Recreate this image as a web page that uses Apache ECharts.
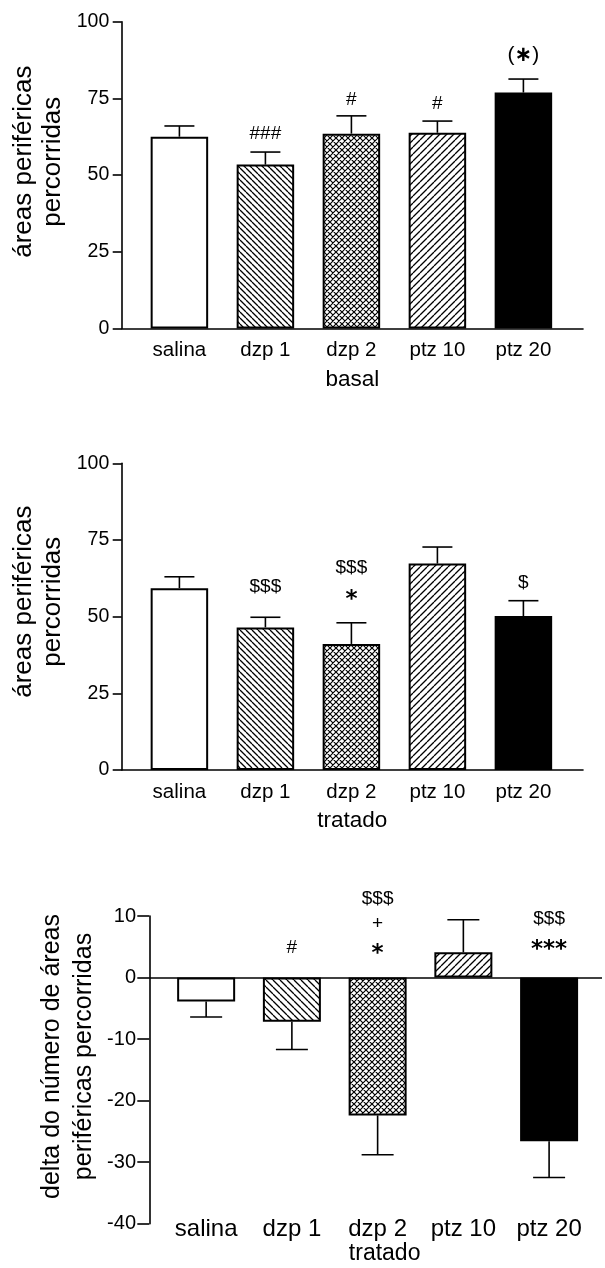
<!DOCTYPE html>
<html>
<head>
<meta charset="utf-8">
<script src="https://cdn.jsdelivr.net/npm/echarts@6/dist/echarts.min.js"></script>
<style>
html,body{margin:0;padding:0;background:#fff;}
#chart{width:605px;height:1268px;}
</style>
</head>
<body>
<div id="chart"></div>
<script>
// ---------- data ----------
const categories = ['salina', 'dzp 1', 'dzp 2', 'ptz 10', 'ptz 20'];

const basalMean = [62.5, 53.4, 63.5, 63.8, 76.9];
const basalSem  = [3.5, 4.1, 5.8, 3.8, 4.4];

const tratadoMean = [59.3, 46.5, 41.1, 67.3, 50.2];
const tratadoSem  = [3.7, 3.3, 6.9, 5.4, 5.0];

const deltaMean = [-3.9, -7.2, -22.4, 4.1, -26.6];
const deltaSem  = [2.5, 4.5, 6.4, 5.3, 5.9];

const pctTicks   = [0, 25, 50, 75, 100];
const deltaTicks = [-40, -30, -20, -10, 0, 10];

// significance marks: category index, text, value level where the mark sits
const basalMarkCat  = [1, 2, 3, 4];
const basalMarkText = ['###', '#', '#', '(*)'];
const basalMarkAt   = [63.3, 74.5, 73.1, 89.1];

const tratadoMarkCat  = [1, 2, 2, 4];
const tratadoMarkText = ['$$$', '$$$', '*', '$'];
const tratadoMarkAt   = [59.7, 65.8, 55.4, 60.9];

const deltaMarkCat  = [1, 2, 2, 2, 4, 4];
const deltaMarkText = ['#', '$$$', '+', '*', '$$$', '***'];
const deltaMarkAt   = [4.8, 12.8, 8.8, 3.9, 9.5, 4.5];

// ---------- styling helpers ----------
const FONT = "'Liberation Sans', Arial, Helvetica, sans-serif";

function hatch(kind, s, lw) {
  const c = document.createElement('canvas');
  c.width = s; c.height = s;
  const g = c.getContext('2d');
  g.fillStyle = '#fff'; g.fillRect(0, 0, s, s);
  g.strokeStyle = '#000'; g.lineWidth = lw;
  g.beginPath();
  for (const k of [-1, 0, 1]) {
    if (kind === 'back' || kind === 'cross') { g.moveTo(k * s, 0); g.lineTo(k * s + s, s); }
    if (kind === 'fwd' || kind === 'cross') { g.moveTo(k * s, s); g.lineTo(k * s + s, 0); }
  }
  g.stroke();
  return c;
}

function fills(sBack, sFwd, sCross) {
  return [
    '#ffffff',
    { image: hatch('back', sBack, 1.3), repeat: 'repeat' },
    { image: hatch('cross', sCross, 1.2), repeat: 'repeat' },
    { image: hatch('fwd', sFwd, 1.3), repeat: 'repeat' },
    '#000000'
  ];
}

const fillsTop = fills(6, 7, 6);
const fillsBottom = fills(7, 7, 6);

function catLabel(v) {
  return (Number.isInteger(v) && categories[v] !== undefined) ? categories[v] : '';
}

function barSeries(idx, mean, fillSet, barW, extra) {
  return Object.assign({
    type: 'bar',
    xAxisIndex: idx, yAxisIndex: idx,
    barWidth: barW,
    data: mean.map((m, i) => ({
      value: [i, m],
      itemStyle: { color: fillSet[i], borderColor: '#000', borderWidth: 2 }
    })),
    silent: true,
    animation: false
  }, extra || {});
}

function errSeries(idx, mean, sem, capW) {
  return {
    type: 'custom',
    xAxisIndex: idx, yAxisIndex: idx,
    silent: true, animation: false, z: 3,
    data: mean.map((m, i) => [i, m, m + (m >= 0 ? 1 : -1) * sem[i]]),
    encode: { x: 0, y: [1, 2] },
    renderItem: function (params, api) {
      const x = api.value(0);
      const p0 = api.coord([x, api.value(1)]);
      const p1 = api.coord([x, api.value(2)]);
      const st = { stroke: '#000', lineWidth: 1.6 };
      return {
        type: 'group',
        children: [
          { type: 'line', shape: { x1: p0[0], y1: p0[1], x2: p1[0], y2: p1[1] }, style: st },
          { type: 'line', shape: { x1: p1[0] - capW / 2, y1: p1[1], x2: p1[0] + capW / 2, y2: p1[1] }, style: st }
        ]
      };
    }
  };
}

function markSeries(idx, cats, texts, at) {
  return {
    type: 'custom',
    xAxisIndex: idx, yAxisIndex: idx,
    silent: true, animation: false, z: 4, clip: false,
    data: cats.map((c, i) => [c, at[i]]),
    renderItem: function (params, api) {
      const p = api.coord([api.value(0), api.value(1)]);
      const t = texts[params.dataIndex];
      const style = { fill: '#000', align: 'center', verticalAlign: 'middle' };
      if (t === '(*)') {
        style.text = '{p|(}{s|\u2217}{p|)}';
        style.rich = {
          p: { font: '21px ' + FONT, fill: '#000' },
          s: { font: "bold 21px 'DejaVu Sans'", fill: '#000' }
        };
      } else if (t.indexOf('*') >= 0) {
        style.text = t;
        style.font = "bold 23px 'DejaVu Sans'";
      } else {
        style.text = t;
        style.font = '19px ' + FONT;
      }
      return { type: 'text', x: p[0], y: p[1], style: style };
    }
  };
}

function pctYAxis(idx) {
  return {
    type: 'value', gridIndex: idx,
    min: pctTicks[0], max: pctTicks[pctTicks.length - 1], interval: pctTicks[1] - pctTicks[0],
    axisLine: { show: true, onZero: false, lineStyle: { color: '#000', width: 1.6 } },
    axisTick: { show: true, length: 9, lineStyle: { color: '#000', width: 1.6 } },
    axisLabel: { color: '#000', fontSize: 19.5, fontFamily: FONT, margin: 12.4 },
    splitLine: { show: false }
  };
}

function pctXAxis(idx, name) {
  return {
    type: 'value', gridIndex: idx,
    min: -0.671, max: 4.693, minInterval: 1, maxInterval: 1,
    axisLine: { show: true, onZero: false, lineStyle: { color: '#000', width: 1.6 } },
    axisTick: { show: false },
    splitLine: { show: false },
    axisLabel: { color: '#000', fontSize: 20.5, fontFamily: FONT, margin: 11.7, formatter: catLabel },
    name: name, nameLocation: 'middle', nameGap: 39.5,
    nameTextStyle: { color: '#000', fontSize: 22.5, fontFamily: FONT }
  };
}

const option = {
  backgroundColor: '#ffffff',
  animation: false,
  grid: [
    { left: 121.7, top: 21.7, width: 461.3, height: 306.7 },
    { left: 121.7, top: 463.3, width: 461.3, height: 306.7 },
    { left: 149.3, top: 916, width: 455.7, height: 307.7 }
  ],
  xAxis: [
    pctXAxis(0, 'basal'),
    pctXAxis(1, 'tratado'),
    {
      type: 'value', gridIndex: 2,
      min: -0.663, max: 4.617, minInterval: 1, maxInterval: 1,
      axisLine: { show: false, onZero: false },
      axisTick: { show: false },
      splitLine: { show: false },
      axisLabel: { color: '#000', fontSize: 24, fontFamily: FONT, margin: -6.8, formatter: catLabel },
      name: 'tratado', nameLocation: 'middle', nameGap: 17,
      nameTextStyle: { color: '#000', fontSize: 23, fontFamily: FONT, padding: [0, 0, 0, 18] }
    }
  ],
  yAxis: [
    pctYAxis(0),
    pctYAxis(1),
    {
      type: 'value', gridIndex: 2,
      min: deltaTicks[0], max: deltaTicks[deltaTicks.length - 1], interval: deltaTicks[1] - deltaTicks[0],
      axisLine: { show: true, onZero: false, lineStyle: { color: '#000', width: 1.6 } },
      axisTick: { show: true, length: 12, lineStyle: { color: '#000', width: 1.6 } },
      axisLabel: { color: '#000', fontSize: 20, fontFamily: FONT, margin: 13.3 },
      splitLine: { show: false }
    }
  ],
  graphic: [
    {
      type: 'text', x: 38.5, y: 161.7, rotation: Math.PI / 2,
      style: { text: 'áreas periféricas\npercorridas', font: '26px ' + FONT, lineHeight: 29.5,
               fill: '#000', align: 'center', verticalAlign: 'middle' }
    },
    {
      type: 'text', x: 38.5, y: 601.7, rotation: Math.PI / 2,
      style: { text: 'áreas periféricas\npercorridas', font: '26px ' + FONT, lineHeight: 29.5,
               fill: '#000', align: 'center', verticalAlign: 'middle' }
    },
    {
      type: 'text', x: 68, y: 1056.5, rotation: Math.PI / 2,
      style: { text: 'delta do número de áreas\nperiféricas percorridas', font: '25px ' + FONT, lineHeight: 32,
               fill: '#000', align: 'center', verticalAlign: 'middle' }
    }
  ],
  series: [
    barSeries(0, basalMean, fillsTop, 57.5),
    errSeries(0, basalMean, basalSem, 30),
    markSeries(0, basalMarkCat, basalMarkText, basalMarkAt),

    barSeries(1, tratadoMean, fillsTop, 57.5),
    errSeries(1, tratadoMean, tratadoSem, 30),
    markSeries(1, tratadoMarkCat, tratadoMarkText, tratadoMarkAt),

    barSeries(2, deltaMean, fillsBottom, 58, {
      markLine: {
        silent: true, symbol: ['none', 'none'], animation: false,
        label: { show: false },
        lineStyle: { color: '#000', type: 'solid', width: 1.6 },
        data: [{ yAxis: 0 }]
      }
    }),
    errSeries(2, deltaMean, deltaSem, 32),
    markSeries(2, deltaMarkCat, deltaMarkText, deltaMarkAt)
  ]
};

const chart = echarts.init(document.getElementById('chart'), null, { renderer: 'canvas' });
chart.setOption(option);
</script>
</body>
</html>
